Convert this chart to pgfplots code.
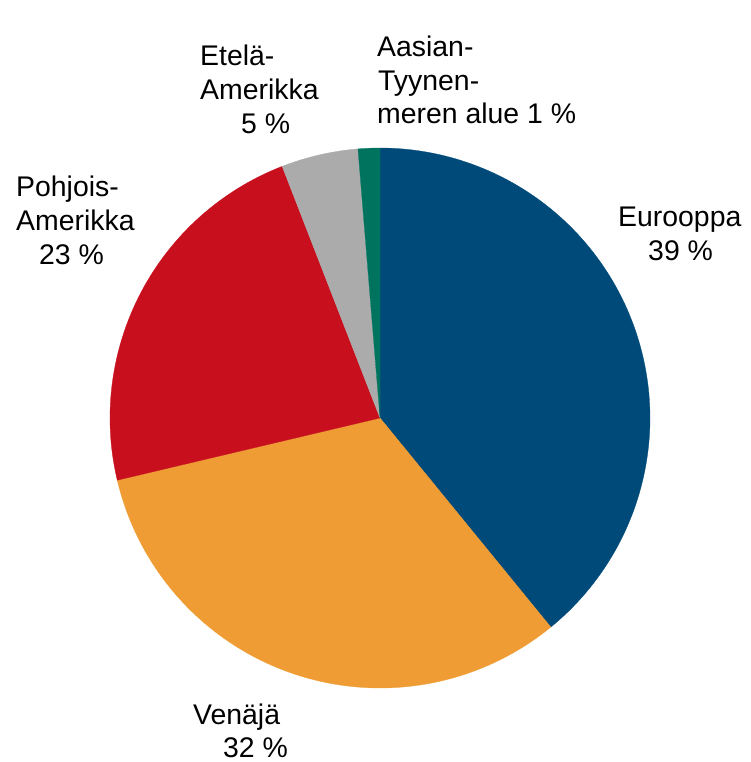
\documentclass[border=0pt]{standalone}
\usepackage{pgfplots}
\pgfplotsset{compat=1.18}
\usepackage{fontspec}
\setmainfont{Liberation Sans}
\definecolor{eu}{HTML}{004A79}
\definecolor{ve}{HTML}{EE9C33}
\definecolor{na}{HTML}{C80F1D}
\definecolor{sa}{HTML}{ABABAB}
\definecolor{ap}{HTML}{00735F}
\tikzset{lab/.style={anchor=base west, inner sep=0pt, font=\fontsize{28.4}{34}\selectfont}}
\begin{document}
\begin{tikzpicture}
\begin{axis}[
  width=750pt, height=762pt, scale only axis,
  xmin=0, xmax=750, ymin=0, ymax=762, y dir=reverse,
  hide axis, clip=false,
]
\addplot[draw=none] coordinates {(0,0) (750,762)};
% shares in percent (cumulative bounds): Eurooppa 39.1, Venaja 32.2, Pohjois-Amerikka 22.8, Etela-Amerikka 4.6, Aasia 1.3
\addplot[fill=eu, draw=eu, line width=0.3pt, domain=0:39.1, samples=120, variable=\t]
  ({380+270*sin(3.6*t)},{418-270*cos(3.6*t)}) -- (axis cs:380,418) -- cycle;
\addplot[fill=ve, draw=ve, line width=0.3pt, domain=39.1:71.3, samples=120, variable=\t]
  ({380+270*sin(3.6*t)},{418-270*cos(3.6*t)}) -- (axis cs:380,418) -- cycle;
\addplot[fill=na, draw=na, line width=0.3pt, domain=71.3:94.1, samples=100, variable=\t]
  ({380+270*sin(3.6*t)},{418-270*cos(3.6*t)}) -- (axis cs:380,418) -- cycle;
\addplot[fill=sa, draw=sa, line width=0.3pt, domain=94.1:98.7, samples=25, variable=\t]
  ({380+270*sin(3.6*t)},{418-270*cos(3.6*t)}) -- (axis cs:380,418) -- cycle;
\addplot[fill=ap, draw=ap, line width=0.3pt, domain=98.7:100, samples=10, variable=\t]
  ({380+270*sin(3.6*t)},{418-270*cos(3.6*t)}) -- (axis cs:380,418) -- cycle;
% labels
\node[lab] at (axis cs:618,226) {Eurooppa};
\node[lab] at (axis cs:648,260) {39 \%};
\node[lab] at (axis cs:193,724) {Venäjä};
\node[lab] at (axis cs:223,757) {32 \%};
\node[lab] at (axis cs:16,196) {Pohjois-};
\node[lab] at (axis cs:16,230) {Amerikka};
\node[lab] at (axis cs:39,264) {23 \%};
\node[lab] at (axis cs:200,66) {Etelä-};
\node[lab] at (axis cs:200,100) {Amerikka};
\node[lab] at (axis cs:241,134) {5 \%};
\node[lab] at (axis cs:377,57) {Aasian-};
\node[lab] at (axis cs:378,91) {Tyynen-};
\node[lab] at (axis cs:377,124) {meren alue 1 \%};
\end{axis}
\end{tikzpicture}
\end{document}
